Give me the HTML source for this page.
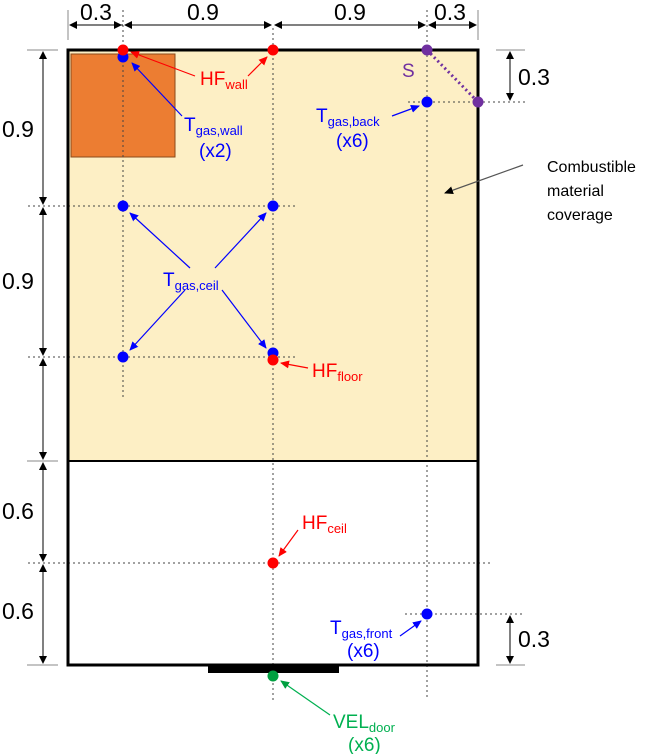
<!DOCTYPE html>
<html><head><meta charset="utf-8"><style>
html,body{margin:0;padding:0;background:#fff}
svg{display:block;font-family:"Liberation Sans",sans-serif}
</style></head><body>
<svg width="660" height="754" viewBox="0 0 660 754">
<defs>
<marker id="ak" markerWidth="8" markerHeight="8" refX="7" refY="4" orient="auto" markerUnits="userSpaceOnUse"><path d="M0,0L8,4L0,8z" fill="#000"/></marker>
<marker id="ab" markerWidth="9" markerHeight="8" refX="8" refY="4" orient="auto" markerUnits="userSpaceOnUse"><path d="M0,0L9,4L0,8z" fill="#0000ff"/></marker>
<marker id="ar" markerWidth="9" markerHeight="8" refX="8" refY="4" orient="auto" markerUnits="userSpaceOnUse"><path d="M0,0L9,4L0,8z" fill="#ff0000"/></marker>
<marker id="ag" markerWidth="9" markerHeight="8" refX="8" refY="4" orient="auto" markerUnits="userSpaceOnUse"><path d="M0,0L9,4L0,8z" fill="#00a040"/></marker>
<marker id="ay" markerWidth="9" markerHeight="8" refX="8" refY="4" orient="auto" markerUnits="userSpaceOnUse"><path d="M0,0L9,4L0,8z" fill="#000"/></marker>
</defs>
<rect x="68" y="50" width="410" height="411" fill="#fdefc5"/>
<rect x="71" y="54" width="104" height="103" fill="#ec7d32" stroke="#8a4a1a" stroke-width="1"/>
<g stroke="#444" stroke-width="1" stroke-dasharray="2,3">
<line x1="123" y1="10" x2="123" y2="400"/><line x1="273" y1="28" x2="273" y2="700"/><line x1="427" y1="10" x2="427" y2="700"/>
<line x1="28" y1="206" x2="298" y2="206"/><line x1="28" y1="357" x2="298" y2="357"/><line x1="28" y1="563" x2="490" y2="563"/>
<line x1="405" y1="614" x2="525" y2="614"/><line x1="408" y1="102" x2="525" y2="102"/>
</g>
<line x1="68" y1="461" x2="478" y2="461" stroke="#000" stroke-width="2"/>
<rect x="68" y="50" width="410" height="615" fill="none" stroke="#000" stroke-width="3"/>
<rect x="208" y="665" width="131" height="8" fill="#000"/>
<g stroke="#000" stroke-width="1">
<line x1="68" y1="10" x2="68" y2="40" stroke="#888"/><line x1="478" y1="10" x2="478" y2="40" stroke="#888"/>
<line x1="123" y1="25" x2="70" y2="25" marker-end="url(#ak)"/><line x1="70" y1="25" x2="121" y2="25" marker-end="url(#ak)"/>
<line x1="125" y1="25" x2="271" y2="25" marker-end="url(#ak)"/><line x1="271" y1="25" x2="125" y2="25" marker-end="url(#ak)"/>
<line x1="275" y1="25" x2="425" y2="25" marker-end="url(#ak)"/><line x1="425" y1="25" x2="275" y2="25" marker-end="url(#ak)"/>
<line x1="429" y1="25" x2="476" y2="25" marker-end="url(#ak)"/><line x1="476" y1="25" x2="429" y2="25" marker-end="url(#ak)"/>
<line x1="27" y1="50" x2="58" y2="50" stroke="#888"/><line x1="27" y1="461" x2="58" y2="461" stroke="#888"/><line x1="27" y1="665" x2="58" y2="665" stroke="#888"/>
<line x1="43" y1="52" x2="43" y2="204" marker-end="url(#ak)"/><line x1="43" y1="204" x2="43" y2="52" marker-end="url(#ak)"/>
<line x1="43" y1="208" x2="43" y2="355" marker-end="url(#ak)"/><line x1="43" y1="355" x2="43" y2="208" marker-end="url(#ak)"/>
<line x1="43" y1="359" x2="43" y2="459" marker-end="url(#ak)"/><line x1="43" y1="459" x2="43" y2="359" marker-end="url(#ak)"/>
<line x1="43" y1="463" x2="43" y2="561" marker-end="url(#ak)"/><line x1="43" y1="561" x2="43" y2="463" marker-end="url(#ak)"/>
<line x1="43" y1="565" x2="43" y2="663" marker-end="url(#ak)"/><line x1="43" y1="663" x2="43" y2="565" marker-end="url(#ak)"/>
<line x1="496" y1="50" x2="525" y2="50" stroke="#888"/><line x1="496" y1="665" x2="525" y2="665" stroke="#888"/>
<line x1="510" y1="52" x2="510" y2="100" marker-end="url(#ak)"/><line x1="510" y1="100" x2="510" y2="52" marker-end="url(#ak)"/>
<line x1="510" y1="616" x2="510" y2="663" marker-end="url(#ak)"/><line x1="510" y1="663" x2="510" y2="616" marker-end="url(#ak)"/>
</g>
<g font-size="23" fill="#000">
<text x="96" y="20" text-anchor="middle">0.3</text><text x="203" y="20" text-anchor="middle">0.9</text>
<text x="350" y="20" text-anchor="middle">0.9</text><text x="450" y="20" text-anchor="middle">0.3</text>
<text x="18" y="137" text-anchor="middle">0.9</text><text x="18" y="289" text-anchor="middle">0.9</text>
<text x="18" y="519" text-anchor="middle">0.6</text><text x="18" y="619" text-anchor="middle">0.6</text>
<text x="534" y="85" text-anchor="middle">0.3</text><text x="534" y="647" text-anchor="middle">0.3</text>
</g>
<line x1="427" y1="50" x2="478" y2="102" stroke="#7030a0" stroke-width="3" stroke-dasharray="2,3"/>
<g stroke-width="1.2" fill="none">
<line x1="195" y1="76" x2="131" y2="52" stroke="#ff0000" marker-end="url(#ar)"/>
<line x1="248" y1="76" x2="267" y2="57" stroke="#ff0000" marker-end="url(#ar)"/>
<line x1="182" y1="116" x2="132" y2="63" stroke="#0000ff" marker-end="url(#ab)"/>
<line x1="190" y1="268" x2="130" y2="213" stroke="#0000ff" marker-end="url(#ab)"/>
<line x1="215" y1="268" x2="266" y2="213" stroke="#0000ff" marker-end="url(#ab)"/>
<line x1="185" y1="290" x2="130" y2="350" stroke="#0000ff" marker-end="url(#ab)"/>
<line x1="222" y1="290" x2="266" y2="348" stroke="#0000ff" marker-end="url(#ab)"/>
<line x1="308" y1="368" x2="281" y2="363" stroke="#ff0000" marker-end="url(#ar)"/>
<line x1="298" y1="530" x2="279" y2="556" stroke="#ff0000" marker-end="url(#ar)"/>
<line x1="392" y1="116" x2="419" y2="106" stroke="#0000ff" marker-end="url(#ab)"/>
<line x1="400" y1="636" x2="421" y2="621" stroke="#0000ff" marker-end="url(#ab)"/>
<line x1="330" y1="715" x2="281" y2="681" stroke="#00b050" marker-end="url(#ag)"/>
<line x1="523" y1="165" x2="445" y2="193" stroke="#555" marker-end="url(#ay)"/>
</g>
<g>
<circle cx="123" cy="57" r="5.5" fill="#0000ff"/>
<circle cx="123" cy="50" r="5.5" fill="#ff0000"/><circle cx="273" cy="50" r="5.5" fill="#ff0000"/>
<circle cx="123" cy="206" r="5.5" fill="#0000ff"/><circle cx="273" cy="206" r="5.5" fill="#0000ff"/>
<circle cx="123" cy="357" r="5.5" fill="#0000ff"/><circle cx="273" cy="353" r="5.5" fill="#0000ff"/>
<circle cx="273" cy="360" r="5.5" fill="#ff0000"/><circle cx="273" cy="563" r="5.5" fill="#ff0000"/>
<circle cx="427" cy="102" r="5.5" fill="#0000ff"/><circle cx="427" cy="614" r="5.5" fill="#0000ff"/>
<circle cx="427" cy="50" r="5.5" fill="#7030a0"/><circle cx="478" cy="102" r="5.5" fill="#7030a0"/>
<circle cx="273" cy="676" r="5.5" fill="#00a040"/>
</g>
<g font-size="19">
<text x="200" y="85" fill="#ff0000">HF<tspan font-size="13" dy="4">wall</tspan></text>
<text x="184" y="131" fill="#0000ff">T<tspan font-size="13" dy="4">gas,wall</tspan></text>
<text x="199" y="157" fill="#0000ff">(x2)</text>
<text x="163" y="286" fill="#0000ff">T<tspan font-size="13" dy="4">gas,ceil</tspan></text>
<text x="312" y="377" fill="#ff0000">HF<tspan font-size="13" dy="4">floor</tspan></text>
<text x="302" y="529" fill="#ff0000">HF<tspan font-size="13" dy="4">ceil</tspan></text>
<text x="316" y="122" fill="#0000ff">T<tspan font-size="13" dy="4">gas,back</tspan></text>
<text x="336" y="147" fill="#0000ff">(x6)</text>
<text x="402" y="77" fill="#7030a0">S</text>
<text x="330" y="634" fill="#0000ff">T<tspan font-size="13" dy="4">gas,front</tspan></text>
<text x="347" y="657" fill="#0000ff">(x6)</text>
<text x="333" y="728" fill="#00b050">VEL<tspan font-size="13" dy="4">door</tspan></text>
<text x="348" y="751" fill="#00b050">(x6)</text>
</g>
<g font-size="16" fill="#000">
<text x="547" y="172">Combustible</text><text x="547" y="196">material</text><text x="547" y="220">coverage</text>
</g>
</svg>
</body></html>
